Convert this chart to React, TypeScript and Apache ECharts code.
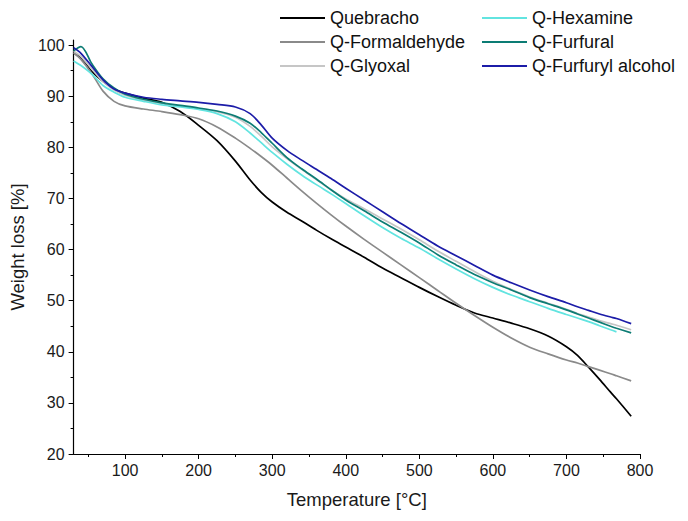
import { useEffect, useRef } from 'react';
import * as echarts from 'echarts';

// temperature grid (°C) shared by all curves
const temps = [30, 40, 55, 70, 85, 100, 125, 150, 175, 200, 225, 250, 270, 285, 300, 320, 340, 360, 380, 400, 425, 450, 475, 500, 525, 550, 575, 600, 625, 650, 675, 700, 715, 730, 745, 760, 768, 788];

// weight loss [%] per sample
const quebracho = [98.5, 97.4, 94.8, 92.9, 91.4, 90.6, 89.6, 88.8, 87.0, 84.3, 81.3, 77.3, 73.6, 71.2, 69.3, 67.3, 65.6, 63.8, 62.1, 60.5, 58.5, 56.4, 54.5, 52.6, 50.8, 49.1, 47.6, 46.6, 45.6, 44.5, 43.1, 41.0, 39.3, 37.0, 34.6, 32.1, 30.8, 27.4];
const formaldehyde = [98.5, 97.2, 94.4, 91.0, 89.0, 88.1, 87.5, 87.0, 86.4, 85.6, 84.0, 81.8, 79.8, 78.2, 76.5, 74.0, 71.5, 69.1, 66.8, 64.6, 62.0, 59.5, 57.0, 54.5, 52.0, 49.5, 47.1, 44.8, 42.7, 40.9, 39.6, 38.4, 37.8, 37.1, 36.4, 35.7, 35.3, 34.3];
const glyoxal = [98.8, 97.8, 95.3, 92.9, 91.2, 90.2, 89.2, 88.6, 88.1, 87.6, 87.0, 85.9, 84.1, 82.2, 80.1, 77.8, 75.7, 73.7, 71.7, 69.9, 68.0, 66.0, 64.0, 61.9, 59.7, 57.7, 55.7, 53.8, 52.2, 50.7, 49.5, 48.3, 47.5, 46.8, 46.1, 45.5, 45.2, 44.3];
const hexamine = [96.9, 96.0, 94.3, 92.1, 90.8, 89.8, 89.0, 88.3, 87.9, 87.4, 86.6, 85.0, 82.8, 80.9, 79.0, 76.7, 74.6, 72.7, 70.9, 69.0, 66.6, 64.3, 62.2, 60.3, 58.2, 56.2, 54.3, 52.6, 51.1, 49.8, 48.5, 47.3, 46.6, 45.9, 45.1, 44.3, 43.9, null];
const furfural = [98.9, 99.7, 96.3, 93.4, 91.6, 90.4, 89.4, 88.7, 88.2, 87.7, 87.1, 86.1, 84.7, 82.9, 80.8, 78.0, 75.8, 73.8, 71.7, 69.7, 67.6, 65.4, 63.4, 61.3, 59.0, 57.0, 55.1, 53.5, 52.1, 50.6, 49.4, 48.2, 47.4, 46.6, 45.8, 45.0, 44.6, 43.7];
const furfurylAlcohol = [99.5, 98.4, 95.8, 93.2, 91.4, 90.6, 89.8, 89.4, 89.1, 88.8, 88.4, 87.9, 86.6, 84.4, 81.8, 79.4, 77.5, 75.7, 73.9, 72.0, 69.7, 67.4, 65.1, 62.9, 60.7, 58.8, 56.9, 55.0, 53.5, 52.1, 50.8, 49.6, 48.8, 48.1, 47.4, 46.8, 46.5, 45.5];

const seriesNames = ['Quebracho', 'Q-Formaldehyde', 'Q-Glyoxal', 'Q-Hexamine', 'Q-Furfural', 'Q-Furfuryl alcohol'];
const seriesValues = [quebracho, formaldehyde, glyoxal, hexamine, furfural, furfurylAlcohol];
const seriesColors = ['#000000', '#8a8a8a', '#c6c6c6', '#62e4e0', '#0c7c74', '#1c1ca8'];

// tick labels
const xTicks = [100, 200, 300, 400, 500, 600, 700, 800];
const xMinorTicks = [50, 150, 250, 350, 450, 550, 650, 750];
const yTicks = [20, 30, 40, 50, 60, 70, 80, 90, 100];
const yMinorTicks = [25, 35, 45, 55, 65, 75, 85, 95];

const FONT = "'Liberation Sans', Arial, sans-serif";

export default function App() {
  const chartRef = useRef<HTMLDivElement>(null);

  useEffect(() => {
    if (!chartRef.current) return;
    document.body.style.margin = '0';
    const chart = echarts.init(chartRef.current, null, { renderer: 'svg' });

    const axisText = { color: '#1a1a1a', fontFamily: FONT, fontSize: 16 };
    const titleText = { color: '#1a1a1a', fontFamily: FONT, fontSize: 18.5 };
    const legendBase = {
      orient: 'vertical' as const,
      top: 9,
      padding: 0,
      icon: 'rect',
      itemWidth: 45,
      itemHeight: 1.8,
      itemGap: 6,
      textStyle: { color: '#111', fontFamily: FONT, fontSize: 18 },
    };

    chart.setOption({
      animation: false,
      backgroundColor: '#fff',
      grid: { left: 73, right: 48, top: 40, bottom: 67 },
      legend: [
        { ...legendBase, left: 280, data: seriesNames.slice(0, 3) },
        { ...legendBase, left: 482, data: seriesNames.slice(3) },
      ],
      xAxis: [
        {
          type: 'value',
          position: 'bottom',
          min: 30,
          max: 800,
          name: 'Temperature [°C]',
          nameLocation: 'middle',
          nameGap: 36,
          nameTextStyle: titleText,
          axisLine: { show: true, lineStyle: { color: '#000', width: 1.2 } },
          axisTick: { show: true, length: 5, customValues: xTicks, lineStyle: { color: '#000' } },
          axisLabel: { ...axisText, margin: 8, customValues: xTicks },
          splitLine: { show: false },
        },
        {
          type: 'value',
          position: 'bottom',
          min: 30,
          max: 800,
          axisLine: { show: false },
          axisTick: { show: true, length: 3, customValues: xMinorTicks, lineStyle: { color: '#000' } },
          axisLabel: { show: false },
          splitLine: { show: false },
        },
      ],
      yAxis: [
        {
          type: 'value',
          position: 'left',
          min: 20,
          max: 101,
          name: 'Weight loss [%]',
          nameLocation: 'middle',
          nameGap: 38,
          nameTextStyle: titleText,
          axisLine: { show: true, lineStyle: { color: '#000', width: 1.2 } },
          axisTick: { show: true, length: 5, customValues: yTicks, lineStyle: { color: '#000' } },
          axisLabel: { ...axisText, margin: 9, customValues: yTicks },
          splitLine: { show: false },
        },
        {
          type: 'value',
          position: 'left',
          min: 20,
          max: 101,
          axisLine: { show: false },
          axisTick: { show: true, length: 3, customValues: yMinorTicks, lineStyle: { color: '#000' } },
          axisLabel: { show: false },
          splitLine: { show: false },
        },
      ],
      series: seriesNames.map((name, i) => ({
        name,
        type: 'line',
        xAxisIndex: 0,
        yAxisIndex: 0,
        smooth: 0.3,
        symbol: 'none',
        color: seriesColors[i],
        lineStyle: { color: seriesColors[i], width: 1.7 },
        data: temps.map((t, j) => [t, seriesValues[i][j]]),
      })),
    });

    return () => {
      chart.dispose();
    };
  }, []);

  return <div ref={chartRef} style={{ width: '688px', height: '521px' }} />;
}
